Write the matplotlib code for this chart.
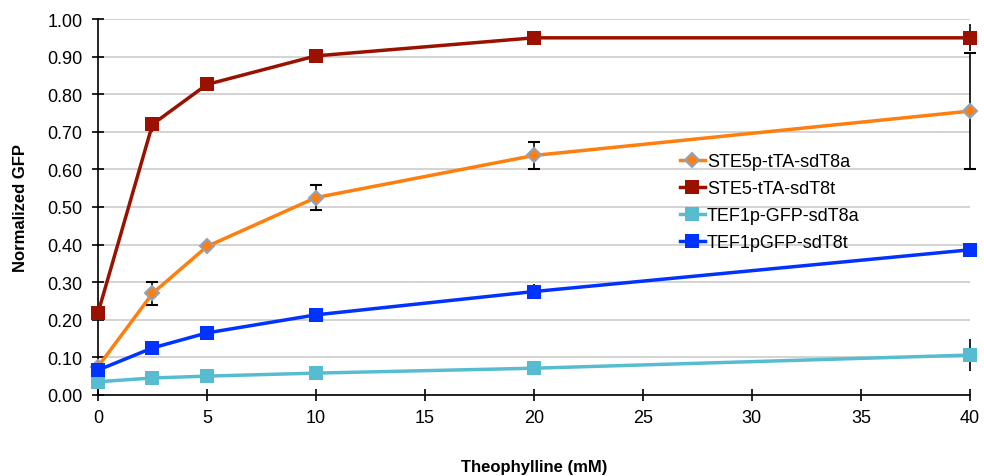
import matplotlib.pyplot as plt
import numpy as np

# Theophylline dose response
conc = [0, 2.5, 5, 10, 20, 40]
labels = ['STE5p-tTA-sdT8a', 'STE5-tTA-sdT8t', 'TEF1p-GFP-sdT8a', 'TEF1pGFP-sdT8t']

ste5p_a = [0.075, 0.27, 0.395, 0.525, 0.637, 0.755]
ste5p_a_err = [0.0, 0.03, 0.0, 0.033, 0.035, 0.155]

ste5_t = [0.218, 0.72, 0.826, 0.902, 0.95, 0.95]
ste5_t_err = [0.0, 0.02, 0.0, 0.0, 0.0, 0.036]

tef1p_a = [0.035, 0.045, 0.05, 0.058, 0.071, 0.106]
tef1p_a_err = [0.0, 0.0, 0.0, 0.0, 0.0, 0.042]

tef1p_t = [0.066, 0.125, 0.165, 0.213, 0.275, 0.386]
tef1p_t_err = [0.0, 0.01, 0.0, 0.0, 0.02, 0.0]

plt.rcParams['font.family'] = ['Liberation Sans', 'DejaVu Sans']

fig = plt.figure(figsize=(9.84, 4.77), dpi=100)
ax = fig.add_axes([0.0996, 0.170, 0.886, 0.788])

lines = []

def series(y, err, color, marker, ms, mec=None, mew=0):
    cont = ax.errorbar(conc, y, yerr=err, color=color, lw=2.5, marker=marker,
                       ms=ms, mfc=color, mec=mec or color, mew=mew,
                       ecolor='black', elinewidth=1.2, capsize=4, capthick=1.2,
                       zorder=3)
    lines.append(cont[0])

series(ste5p_a, ste5p_a_err, '#ff7f0e', 'D', 7, mec='#8fa3bf', mew=1.5)
series(ste5_t, ste5_t_err, '#9b1100', 's', 10)
series(tef1p_a, tef1p_a_err, '#57bcd0', 's', 10)
series(tef1p_t, tef1p_t_err, '#0033ff', 's', 10)

ax.set_xlim(0, 40)
ax.set_ylim(0, 1.0)
ax.set_xticks(range(0, 41, 5))
ax.set_yticks(np.arange(0, 1.01, 0.1))
ax.set_yticklabels([f'{v:.2f}' for v in np.arange(0, 1.01, 0.1)])
ax.tick_params(labelsize=13, direction='inout', length=8, width=1.2)
ax.tick_params(axis='x', pad=6)
ax.tick_params(axis='y', pad=7)
ax.grid(axis='y', color='#cccccc', lw=1.2)
ax.set_axisbelow(True)
for s in ['top', 'right']:
    ax.spines[s].set_visible(False)
for s in ['left', 'bottom']:
    ax.spines[s].set_linewidth(1.2)
for c in ax.get_children():
    c.set_clip_on(False)

ax.set_xlabel('Theophylline (mM)', fontsize=12, fontweight='bold', labelpad=24)
ax.set_ylabel('Normalized GFP', fontsize=12, fontweight='bold', labelpad=14)

ax.legend(lines, labels, frameon=False, fontsize=13,
          loc='center left', bbox_to_anchor=(0.6485, 0.513),
          handlelength=1.4, handletextpad=0.1, labelspacing=0.55)

fig.savefig('out.png', dpi=100)
